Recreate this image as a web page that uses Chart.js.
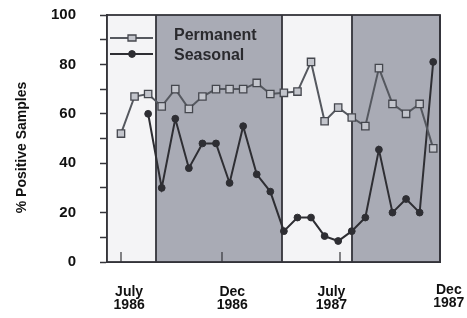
<!DOCTYPE html>
<html>
<head>
<meta charset="utf-8">
<script src="https://cdn.jsdelivr.net/npm/chart.js@4.4.1/dist/chart.umd.min.js"></script>
<style>
  html, body { margin: 0; padding: 0; background: #fff; }
</style>
</head>
<body>
<canvas id="chart" width="467" height="318"></canvas>
<script>
// sampling rounds, one point each, July 1986 .. Dec 1987
var rounds = [0, 1, 2, 3, 4, 5, 6, 7, 8, 9, 10, 11, 12, 13, 14, 15, 16, 17, 18, 19, 20, 21, 22, 23];
var permanent = [52, 67, 68, 63, 70, 62, 67, 70, 70, 70, 72.5, 68, 68.5, 69, 81, 57, 62.5, 58.5, 55, 78.5, 64, 60, 64, 46];
var seasonal = [null, null, 60, 30, 58, 38, 48, 48, 32, 55, 35.5, 28.5, 12.5, 18, 18, 10.5, 8.5, 12.5, 18, 45.5, 20, 25.5, 20, 81];
var seriesNames = ['Permanent', 'Seasonal'];
var dateLabels = [['July', '1986'], ['Dec', '1986'], ['July', '1987'], ['Dec', '1987']];
var dateLabelAt = [0.6, 8.2, 15.5, 24.15];
var dateTickAt = [0, 7.45, 16.1];
var shadedPeriods = [[2.58, 11.86], [17.0, 23.5]];

var FONT = "'Liberation Sans', Arial, sans-serif";

var framePlugin = {
    id: 'frame',
    beforeDatasetsDraw: function (chart) {
        var ctx = chart.ctx, a = chart.chartArea, xs = chart.scales.x;
        ctx.save();
        ctx.fillStyle = '#f4f4f6';
        ctx.fillRect(a.left, a.top, a.right - a.left, a.bottom - a.top);
        ctx.fillStyle = '#a9abb5';
        shadedPeriods.forEach(function (p) {
            var x0 = xs.getPixelForValue(p[0]), x1 = xs.getPixelForValue(p[1]);
            ctx.fillRect(x0, a.top, x1 - x0, a.bottom - a.top);
        });
        ctx.strokeStyle = '#34343a';
        ctx.lineWidth = 1.8;
        shadedPeriods.forEach(function (p) {
            p.forEach(function (v) {
                var x = Math.round(xs.getPixelForValue(v));
                ctx.beginPath();
                ctx.moveTo(x, a.top);
                ctx.lineTo(x, a.bottom);
                ctx.stroke();
            });
        });
        ctx.strokeRect(a.left, a.top, a.right - a.left, a.bottom - a.top);
        // small inward ticks on the date axis
        ctx.lineWidth = 1.2;
        dateTickAt.forEach(function (v) {
            var x = Math.round(xs.getPixelForValue(v));
            ctx.beginPath();
            ctx.moveTo(x, a.bottom);
            ctx.lineTo(x, a.bottom - 10);
            ctx.stroke();
        });
        ctx.restore();
    },
    afterDraw: function (chart) {
        var ctx = chart.ctx, a = chart.chartArea, xs = chart.scales.x;
        ctx.save();
        ctx.fillStyle = '#111';
        ctx.font = 'bold 14px ' + FONT;
        ctx.textAlign = 'center';
        ctx.textBaseline = 'alphabetic';
        dateLabels.forEach(function (lab, i) {
            var x = xs.getPixelForValue(dateLabelAt[i]);
            var up = i === 3 ? 2 : 0;
            ctx.fillText(lab[0], x, a.bottom + 34 - up);
            ctx.fillText(lab[1], x, a.bottom + 47 - up);
        });

        // y title, drawn by hand so it sits a little below the axis centre
        ctx.save();
        ctx.translate(22, (a.top + a.bottom) / 2 + 9);
        ctx.rotate(-Math.PI / 2);
        ctx.textBaseline = 'middle';
        ctx.fillText('% Positive Samples', 0, 0);
        ctx.restore();

        // legend inside the plot, top left
        var ds = chart.data.datasets;
        var ys = [a.top + 23, a.top + 39];
        ds.forEach(function (d, i) {
            var y = ys[i];
            ctx.strokeStyle = d.borderColor;
            ctx.lineWidth = 2;
            ctx.beginPath();
            ctx.moveTo(a.left + 3, y);
            ctx.lineTo(a.left + 46, y);
            ctx.stroke();
            ctx.fillStyle = d.pointBackgroundColor;
            ctx.strokeStyle = d.pointBorderColor;
            ctx.lineWidth = d.pointBorderWidth;
            ctx.beginPath();
            if (d.pointStyle === 'rect') {
                ctx.rect(a.left + 21, y - 3, 8, 6);
            } else {
                ctx.arc(a.left + 25, y, d.pointRadius, 0, Math.PI * 2);
            }
            ctx.fill();
            ctx.stroke();
        });
        ctx.fillStyle = '#2a2a2e';
        ctx.font = 'bold 16px ' + FONT;
        ctx.textAlign = 'left';
        ctx.fillText(seriesNames[0], a.left + 67, a.top + 24.5);
        ctx.fillText(seriesNames[1], a.left + 67, a.top + 44.5);
        ctx.restore();
    }
};

var ctx = document.getElementById('chart').getContext('2d');
var chart = new Chart(ctx, {
    type: 'line',
    data: {
        datasets: [{
            label: seriesNames[0],
            data: rounds.map(function (r, i) { return { x: r, y: permanent[i] }; }),
            borderColor: '#55585f',
            borderWidth: 2,
            pointStyle: 'rect',
            pointRadius: 5.2,
            pointBackgroundColor: '#c3c5cc',
            pointBorderColor: '#45474e',
            pointBorderWidth: 1.3,
            tension: 0
        }, {
            label: seriesNames[1],
            data: rounds.map(function (r, i) { return { x: r, y: seasonal[i] }; }),
            borderColor: '#2e2e33',
            borderWidth: 2,
            pointStyle: 'circle',
            pointRadius: 3.4,
            pointBackgroundColor: '#2e2e33',
            pointBorderColor: '#2e2e33',
            pointBorderWidth: 1,
            tension: 0
        }]
    },
    options: {
        responsive: false,
        animation: false,
        layout: { padding: { top: 15, right: 27, left: 0, bottom: 0 } },
        plugins: {
            legend: { display: false },
            tooltip: { enabled: false }
        },
        scales: {
            x: {
                type: 'linear',
                min: -1.03,
                max: 23.5,
                ticks: { display: false },
                grid: { display: false },
                border: { display: true, color: '#34343a', width: 2 },
                afterFit: function (scale) {
                    scale.height = 56;
                    scale.paddingLeft = 0;
                    scale.paddingRight = 0;
                }
            },
            y: {
                min: 0,
                max: 100,
                ticks: {
                    stepSize: 10,
                    padding: 24,
                    color: '#111',
                    font: { family: FONT, size: 15, weight: 'bold' },
                    callback: function (v) { return v % 20 === 0 ? v : ''; }
                },
                grid: { drawOnChartArea: false, tickLength: 7, tickColor: '#34343a', tickWidth: 1.5 },
                border: { display: true, color: '#34343a', width: 2 },
                afterFit: function (scale) {
                    scale.width = 107;
                    scale.paddingTop = 0;
                    scale.paddingBottom = 0;
                }
            }
        }
    },
    plugins: [framePlugin]
});
</script>
</body>
</html>
